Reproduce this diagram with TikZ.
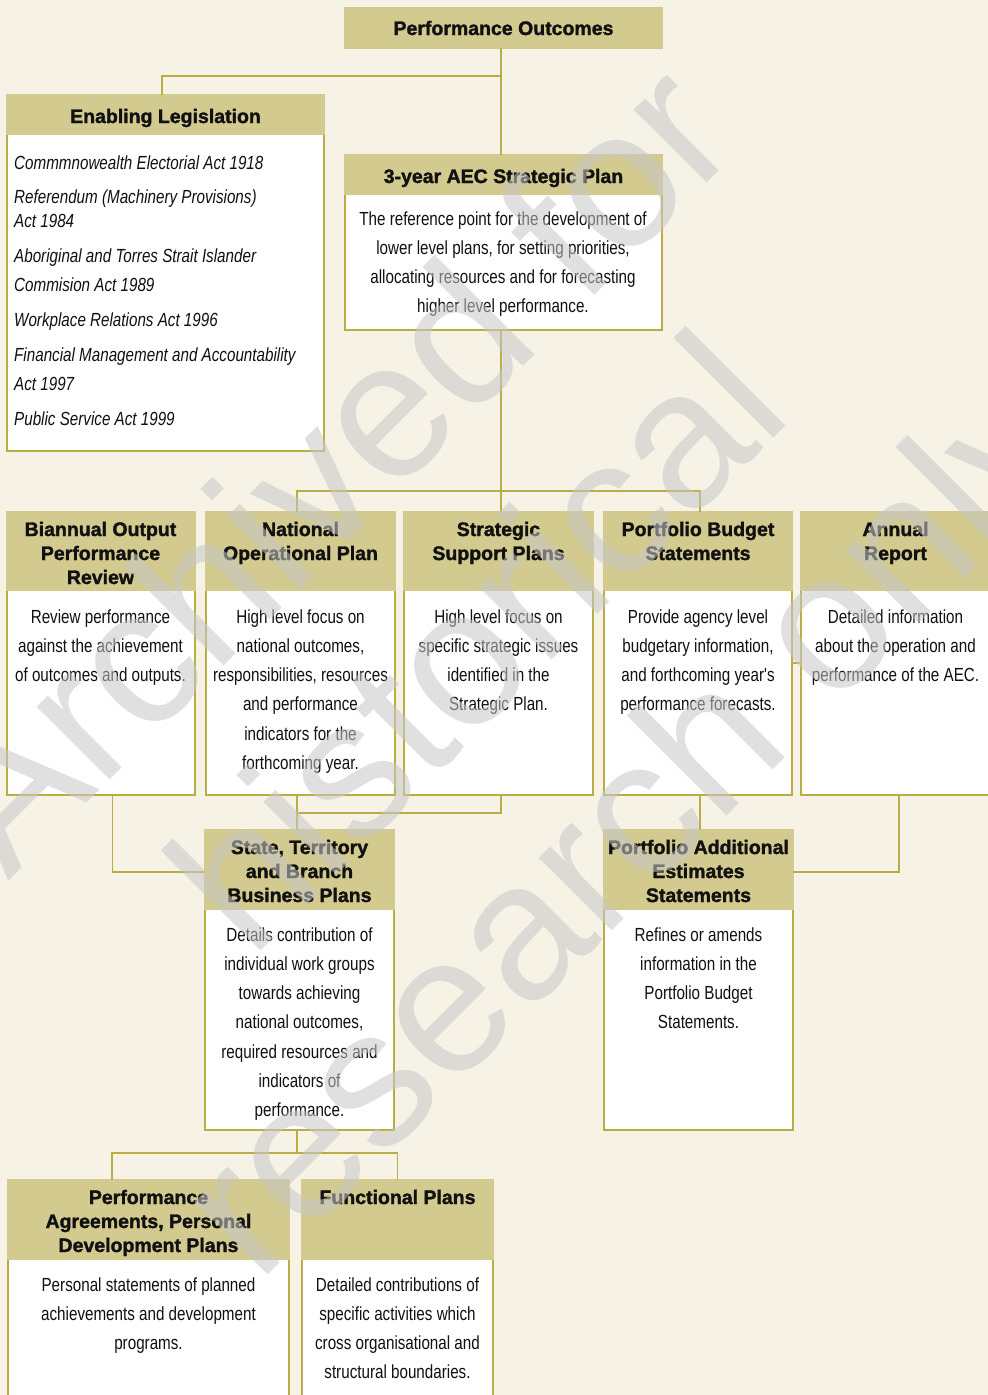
\documentclass[tikz,border=0pt]{standalone}
\usepackage{fontspec}
\setmainfont{Liberation Sans}
\newfontfamily\bodyfont[FakeStretch=0.8]{Liberation Sans}
\newfontfamily\hdrfont[RawFeature={embolden=1.6}]{Liberation Sans Bold}
\protected\def\bodyset{\bodyfont\fontsize{19}{29.3}\selectfont}
\protected\def\itset{\bodyfont\itshape\fontsize{19}{24}\selectfont}
\usetikzlibrary{calc}
\definecolor{bg}{RGB}{246,242,230}
\definecolor{hdr}{RGB}{210,202,143}
\definecolor{olive}{RGB}{185,174,70}
\definecolor{wm}{RGB}{200,200,200}
\definecolor{ink}{RGB}{17,17,17}
\tikzset{
  frame/.style={draw=olive, line width=1.3pt, fill=white, inner sep=0pt, outer sep=0pt},
  conn/.style={draw=olive, line width=1.3pt},
  htext/.style={font=\hdrfont\fontsize{19.5}{24}\selectfont, text=ink, align=flush center, anchor=base, inner sep=0pt, text width=#1},
  btext/.style={font=\bodyset, text=ink, align=flush center, anchor=base, inner sep=0pt, text width=#1},
  wmark/.style={font=\fontsize{195}{200}\selectfont, text=wm, opacity=0.55, text opacity=0.55, anchor=base west, rotate=45, inner sep=0pt},
}
\newcommand\orgbox[6]{%
  \node[frame, minimum width={#4-#2}, minimum height={#5-#3}] (#1) at ({(#2+#4)/2},{(#3+#5)/2}) {};
  \fill[hdr] (#2-0.65,#3-0.65) rectangle (#4+0.65,#6);
}
\begin{document}
\begin{tikzpicture}[x=1pt,y=-1pt]
\useasboundingbox (0,0) rectangle (988,1395);
\fill[bg] (0,0) rectangle (988,1395);

% ---------- boxes ----------
\orgbox{po}{345}{8}{662}{48}{48.7}
\orgbox{el}{7}{95}{324}{451}{135}
\orgbox{sp3}{345}{155}{662}{330}{195}
\orgbox{bop}{7}{512}{195}{795}{591}
\orgbox{nop}{206}{512}{395}{795}{591}
\orgbox{ssp}{404}{512}{593}{795}{591}
\orgbox{pbs}{604}{512}{792}{795}{591}
\orgbox{arp}{801}{512}{992}{795}{591}
\orgbox{stb}{205}{830}{394}{1130}{910}
\orgbox{paes}{604}{830}{793}{1130}{910}
\orgbox{pa}{8}{1180}{289}{1402}{1260}
\orgbox{fp}{302}{1180}{493}{1402}{1260}

% ---------- connectors ----------
\coordinate (a1) at (501,76);
\coordinate (b1) at (501,491);
\draw[conn] (po.south -| a1) -- (sp3.north -| a1);
\draw[conn] (a1) -| ([xshift=-3.5pt]el.north);
\draw[conn] (sp3.south -| b1) -- (ssp.north -| b1);
\draw[conn] ([xshift=-3.5pt]nop.north) -- ++(0,-21) -| ([xshift=2pt]pbs.north);
\draw[conn] ([xshift=11.5pt]bop.south) |- ([yshift=108pt]stb.west);
\draw[conn] ([xshift=-3.5pt]nop.south) -- ([xshift=-2.5pt]stb.north);
\draw[conn] ([xshift=2.5pt]ssp.south) -- ++(0,18) -| ([xshift=-3.5pt]nop.south);
\draw[conn] ([xshift=2pt]pbs.south) -- ([xshift=1.5pt]paes.north);
\draw[conn] ([xshift=2.5pt]arp.south) |- ([yshift=108pt]paes.east);
\draw[conn] ([yshift=-9.5pt]pbs.east) -- ([yshift=-9.5pt]arp.west);
\draw[conn] ([xshift=-2.5pt]stb.south) -- ++(0,23) coordinate (c1);
\draw[conn] ([xshift=-36.5pt]pa.north) -- ++(0,-27) -| (fp.north);

% ---------- headers ----------
\node[htext=310] (po-h) at (503.5,35) {Performance Outcomes};
\node[htext=310] (el-h) at (165.5,123) {Enabling Legislation};
\node[htext=310] (sp3-h) at (503.5,183) {3-year AEC Strategic Plan};
\node[htext=186] (bop-h) at (100.5,536) {Biannual Output\\Performance\\Review};
\node[htext=186] (nop-h) at (300.5,536) {National\\Operational Plan};
\node[htext=186] (ssp-h) at (498.5,536) {Strategic\\Support Plans};
\node[htext=186] (pbs-h) at (698,536) {Portfolio Budget\\Statements};
\node[htext=186] (arp-h) at (895.5,536) {Annual\\Report};
\node[htext=186] (stb-h) at (299.5,854) {State, Territory\\and Branch\\Business Plans};
\node[htext=186] (paes-h) at (698.5,854) {Portfolio Additional\\Estimates\\Statements};
\node[htext=276] (pa-h) at (148.5,1204) {Performance\\Agreements, Personal\\Development Plans};
\node[htext=186] (fp-h) at (397.5,1204) {Functional Plans};

% ---------- bodies ----------
\node[anchor=base west, inner sep=0pt, align=flush left, text width=308, text=ink, font=\itset] (el-b) at (14,169)
  {Commmnowealth Electorial Act 1918\\[10pt]
   Referendum (Machinery Provisions)\\
   Act 1984\\[11pt]
   Aboriginal and Torres Strait Islander\\[5pt]
   Commision Act 1989\\[11pt]
   Workplace Relations Act 1996\\[11pt]
   Financial Management and Accountability\\[5pt]
   Act 1997\\[11pt]
   Public Service Act 1999};
\node[btext=310] (sp3-b) at (503,225) {The reference point for the development of\\lower level plans, for setting priorities,\\allocating resources and for forecasting\\higher level performance.};
\node[btext=186] (bop-b) at (100.5,623) {Review performance\\against the achievement\\of outcomes and outputs.};
\node[btext=186] (nop-b) at (300.5,623) {High level focus on\\national outcomes,\\responsibilities, resources\\and performance\\indicators for the\\forthcoming year.};
\node[btext=186] (ssp-b) at (498.5,623) {High level focus on\\specific strategic issues\\identified in the\\Strategic Plan.};
\node[btext=186] (pbs-b) at (698,623) {Provide agency level\\budgetary information,\\and forthcoming year's\\performance forecasts.};
\node[btext=186] (arp-b) at (895.5,623) {Detailed information\\about the operation and\\performance of the AEC.};
\node[btext=186] (stb-b) at (299.5,941) {Details contribution of\\individual work groups\\towards achieving\\national outcomes,\\required resources and\\indicators of\\performance.};
\node[btext=186] (paes-b) at (698.5,941) {Refines or amends\\information in the\\Portfolio Budget\\Statements.};
\node[btext=276] (pa-b) at (148.5,1291) {Personal statements of planned\\achievements and development\\programs.};
\node[btext=186] (fp-b) at (397.5,1291) {Detailed contributions of\\specific activities which\\cross organisational and\\structural boundaries.};

% ---------- watermark ----------
\node[wmark] (wm1) at (8,882) {Archived for};
\node[wmark] (wm2) at (251,961) {historical};
\node[wmark] (wm3) at (258,1285) {research only};
\end{tikzpicture}
\end{document}
